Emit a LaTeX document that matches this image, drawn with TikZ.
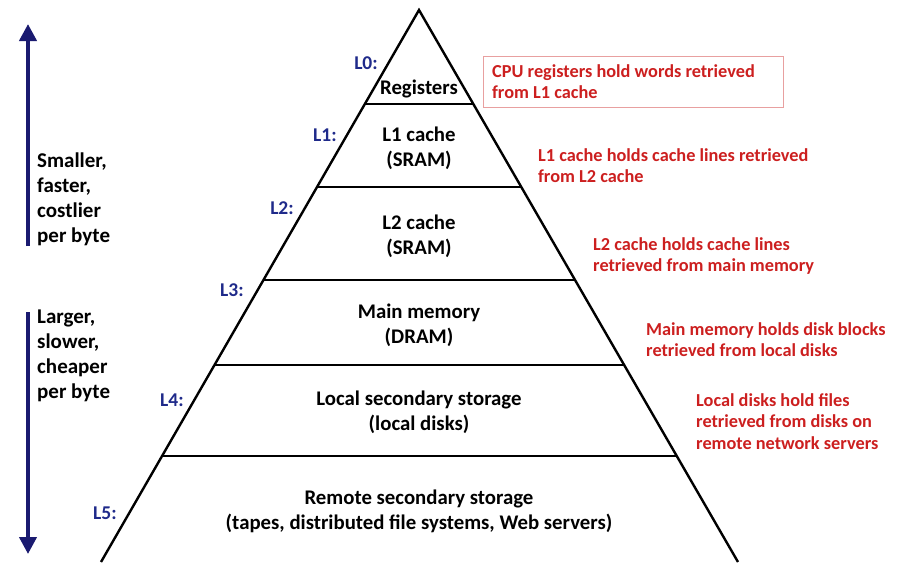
\documentclass[tikz,border=0pt]{standalone}
\usepackage{fontspec}
\setmainfont{Carlito}
\usetikzlibrary{arrows.meta}
\definecolor{navy}{HTML}{1A1A70}
\definecolor{lvl}{HTML}{1F2A8A}
\definecolor{redtxt}{HTML}{CC1F1F}
\definecolor{boxred}{HTML}{E8A0A0}
\begin{document}
\begin{tikzpicture}[x=1pt,y=-1pt,
  pyr/.style={font=\bfseries\fontsize{20.8}{25}\selectfont,align=center,text=black,inner sep=0},
  lvlab/.style={font=\bfseries\fontsize{19.5}{22}\selectfont,text=lvl,inner sep=0},
  note/.style={font=\bfseries\fontsize{18.3}{21.8}\selectfont,align=left,text=redtxt,inner sep=0,anchor=north west},
  side/.style={font=\bfseries\fontsize{21}{25}\selectfont,align=left,text=black,inner sep=0,anchor=north west},
  tri/.style={line width=2.4pt,black},
  hline/.style={line width=2pt,black},
  bigarrow/.style={line width=4pt,navy,-{Triangle[length=17pt,width=17pt]}}]
\useasboundingbox (0,0) rectangle (899,562);
% pyramid
\coordinate (apex) at (419,10);
\coordinate (bl) at (101,562);
\coordinate (br) at (738,562);
\draw[tri,line join=miter] (bl) -- (apex) -- (br);
\foreach \y/\n in {104/a,187/b,280/c,365/d,456/e}{
  \coordinate (l\n) at ({419-0.5761*(\y-10)},\y);
  \coordinate (r\n) at ({419+0.5779*(\y-10)},\y);
  \draw[hline] (l\n) -- (r\n);
}
% pyramid texts
\node[pyr] (t0) at (419,88.5) {Registers};
\node[pyr] (t1) at (419,148) {L1 cache\\(SRAM)};
\node[pyr] (t2) at (419,236) {L2 cache\\(SRAM)};
\node[pyr] (t3) at (419,325) {Main memory\\(DRAM)};
\node[pyr] (t4) at (419,412) {Local secondary storage\\(local disks)};
\node[pyr] (t5) at (419,511) {Remote secondary storage\\(tapes, distributed file systems, Web servers)};
% level labels
\node[lvlab] (L0) at (366,63) {L0:};
\node[lvlab] (L1) at (325,135) {L1:};
\node[lvlab] (L2) at (282,208) {L2:};
\node[lvlab] (L3) at (232,290) {L3:};
\node[lvlab] (L4) at (172,400) {L4:};
\node[lvlab] (L5) at (105,513) {L5:};
% notes
\node[draw=boxred,line width=0.8pt,minimum width=300pt,minimum height=51pt,anchor=north west,inner sep=0] (box) at (483,56) {};
\node[note] (n0) at (492,64) {CPU registers hold words retrieved\\from L1 cache};
\node[note] (n1) at (538,148) {L1 cache holds cache lines retrieved\\from L2 cache};
\node[note] (n2) at (593,237) {L2 cache holds cache lines\\retrieved from main memory};
\node[note] (n3) at (646,322) {Main memory holds disk blocks\\retrieved from local disks};
\node[note] (n4) at (696,393) {Local disks hold files\\retrieved from disks on\\remote network servers};
% side arrows
\coordinate (u1) at (28,246);
\coordinate (u2) at (28,24);
\coordinate (d1) at (28,312);
\coordinate (d2) at (28,554);
\draw[bigarrow] (u1) -- (u2);
\draw[bigarrow] (d1) -- (d2);
\node[side] (s1) at (37,153) {Smaller,\\faster,\\costlier\\per byte};
\node[side] (s2) at (37,309.5) {Larger,\\slower,\\cheaper\\per byte};
\end{tikzpicture}
\end{document}
